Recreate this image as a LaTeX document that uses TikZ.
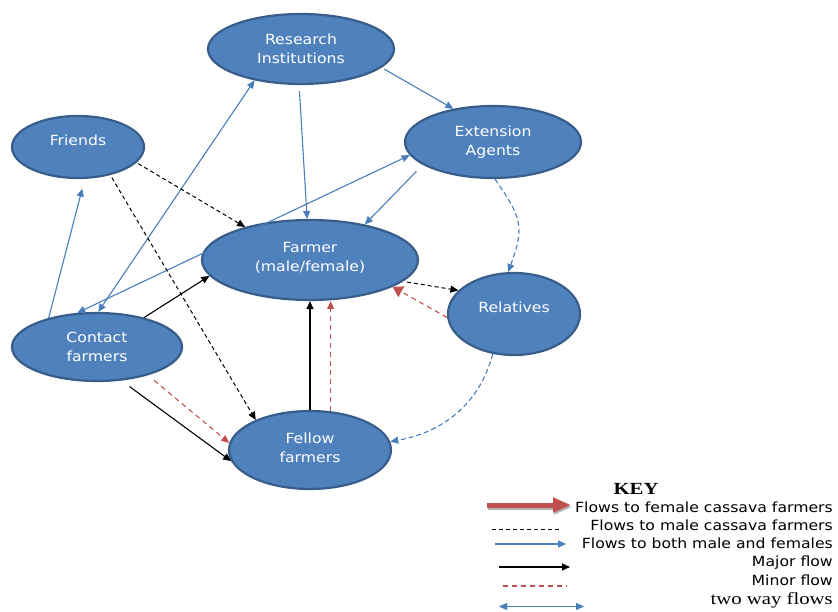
\documentclass[tikz,border=0pt]{standalone}
\usepackage{fontspec}
\setmainfont{Liberation Serif}
\newfontfamily\lblfont{DejaVu Sans}[FakeStretch=1.12]
\newfontfamily\keyfont{Liberation Serif}[FakeStretch=1.22]
\usetikzlibrary{shapes.geometric,arrows.meta,calc}
\definecolor{nodefill}{HTML}{4F81BD}
\definecolor{nodeborder}{HTML}{385D8A}
\definecolor{flowblue}{HTML}{4A7EBB}
\definecolor{flowred}{HTML}{C0504D}
\tikzset{
  actor/.style={ellipse, draw=nodeborder, line width=2.2pt, fill=nodefill, inner sep=0pt,
    text=white, align=center, font=\lblfont\fontsize{14}{19}\selectfont},
  tipb/.style={-{Triangle[length=8pt,width=7pt]}},
  blueflow/.style={draw=flowblue, line width=1.1pt, tipb},
  bluetwo/.style={draw=flowblue, line width=1.1pt, {Triangle[length=8pt,width=7pt]}-{Triangle[length=8pt,width=7pt]}},
  bluedash/.style={draw=flowblue, line width=1.1pt, dash pattern=on 5pt off 3pt, tipb},
  maleflow/.style={draw=black, line width=1pt, dash pattern=on 4pt off 3pt, tipb},
  majorflow/.style={draw=black, line width=1.1pt, tipb},
  minorflow/.style={draw=flowred, line width=1.1pt, dash pattern=on 5pt off 4pt, -{Triangle[length=8pt,width=7pt]}},
  keytext/.style={anchor=east, inner sep=0pt, font=\lblfont\fontsize{14}{16}\selectfont},
}
\begin{document}
\begin{tikzpicture}[x=1pt,y=1pt]
\useasboundingbox (0,0) rectangle (838,611);
% nodes
\node[actor, minimum width=186pt, minimum height=70pt] (res) at (301,562) {Research\\Institutions};
\node[actor, minimum width=132pt, minimum height=62pt] (fri) at (78,464) {Friends\\[-6pt]\mbox{}};
\node[actor, minimum width=176pt, minimum height=72pt] (ext) at (493,469) {Extension\\Agents};
\node[actor, minimum width=216pt, minimum height=80pt] (far) at (310,351) {Farmer\\(male/female)\\[-12pt]\mbox{}};
\node[actor, minimum width=132pt, minimum height=82pt] (rel) at (514,297) {Relatives\\[-6pt]\mbox{}};
\node[actor, minimum width=170pt, minimum height=68pt] (con) at (97,264) {Contact\\farmers};
\node[actor, minimum width=162pt, minimum height=78pt] (fel) at (310,161) {Fellow\\farmers\\[-14pt]\mbox{}};
% blue flows
\draw[blueflow, shorten <=3pt] (res.-13) -- (ext.140);
\draw[blueflow, shorten <=6pt] (res.-93) -- (far.94);
\draw[bluetwo] (con.88) -- (res.214);
\draw[bluetwo] (con.120) -- (ext.189);
\draw[blueflow, shorten >=10pt] (con.149) -- (fri.-78);
\draw[blueflow, shorten <=9pt] (ext.198) -- (far.33);
\draw[bluedash] (ext.-87) to[out=-55, in=70, looseness=1.3] (rel.98);
\draw[bluedash] (rel.-118) to[out=-105, in=10] (fel.6);
% male flows
\draw[maleflow, shorten <=2pt] (fri.-15) -- (far.153);
\draw[maleflow, shorten <=3pt] (fri.-41) -- (fel.151);
\draw[maleflow, shorten <=4pt] (far.-13) -- (rel.157);
% major flows
\draw[majorflow] (con.32) -- (far.189);
\draw[majorflow, shorten <=10pt] (con.-54) -- (fel.188);
\draw[majorflow] (fel.north) -- (far.south);
% minor flows
\draw[minorflow, shorten <=8pt] (con.-29) -- (fel.175);
\draw[minorflow] (fel.62) -- (fel.62 |- far.south);
\draw[draw=flowred, line width=1.1pt, dash pattern=on 5pt off 4pt, -{Triangle[length=10pt,width=12pt,fill=flowred]}] (rel.183) -- (far.-18);
% key
\node[font=\keyfont\bfseries\fontsize{17}{20}\selectfont, inner sep=0pt] (keyt) at (636,122) {KEY};
\coordinate (k1a) at (487,106); \coordinate (k1b) at (571,106);
\draw[gray!60, line width=5pt, -{Triangle[length=18pt,width=14pt]}] ($(k1a)+(1,-2)$) -- ($(k1b)+(1,-2)$);
\draw[flowred, line width=5pt, -{Triangle[length=18pt,width=14pt]}] (k1a) -- (k1b);
\node[keytext] (t1) at (833,104) {Flows to female cassava farmers};
\coordinate (k2a) at (492,82); \coordinate (k2b) at (562,82);
\draw[black, line width=1pt, dash pattern=on 4pt off 3pt] (k2a) -- (k2b);
\node[keytext] (t2) at (833,86) {Flows to male cassava farmers};
\coordinate (k3a) at (495,67); \coordinate (k3b) at (566,67);
\draw[blueflow] (k3a) -- (k3b);
\node[keytext] (t3) at (833,68) {Flows to both male and females};
\coordinate (k4a) at (499,44); \coordinate (k4b) at (570,44);
\draw[majorflow] (k4a) -- (k4b);
\node[keytext] (t4) at (833,48) {Major flow};
\coordinate (k5a) at (503,25); \coordinate (k5b) at (567,25);
\draw[draw=flowred, line width=1.2pt, dash pattern=on 5pt off 4pt] (k5a) -- (k5b);
\node[keytext] (t5) at (833,31) {Minor flow};
\coordinate (k6a) at (499,4.5); \coordinate (k6b) at (584,4.5);
\draw[bluetwo] (k6a) -- (k6b);
\node[anchor=east, inner sep=0pt, font=\keyfont\fontsize{17}{20}\selectfont] (t6) at (833,11) {two way flows};
\end{tikzpicture}
\end{document}
